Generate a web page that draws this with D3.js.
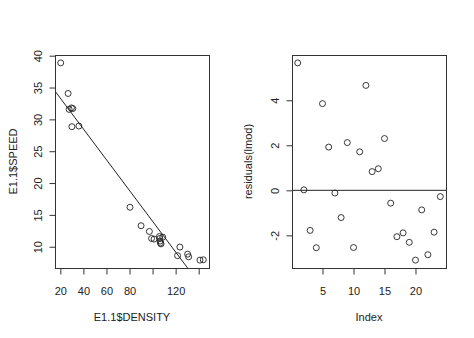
<!DOCTYPE html>
<html><head><meta charset="utf-8">
<script src="https://cdn.jsdelivr.net/npm/d3@7"></script>
<style>body{margin:0;background:#fff}text{font-family:"Liberation Sans",Arial,sans-serif;fill:#222}</style>
</head><body>
<svg id="c" width="474" height="338"></svg>
<script>
// Left panel: E1.1$DENSITY vs E1.1$SPEED
const density = [20.3, 26.7, 27.6, 29.6, 30.8, 30.0, 36.1, 80.4, 90.0, 97.2, 99.1, 101.3, 105.9, 106.3, 106.5, 106.8, 107.3, 108.8, 121.7, 123.7, 130.4, 131.3, 141.1, 144.0];
const speed   = [38.87, 34.07, 31.57, 31.8, 31.7, 28.85, 28.95, 16.2, 13.3, 12.4, 11.3, 11.2, 11.6, 11.3, 10.9, 10.6, 10.45, 11.5, 8.6, 9.95, 8.84, 8.42, 7.9, 7.95];
const fitCoef = [38.15, -0.2415]; // intercept, slope of lmod
const leftXTicks = [20, 40, 60, 80, 100, 120, 140];
const leftXLabels = ["20", "40", "60", "80", "", "120", ""];
const leftYTicks = [10, 15, 20, 25, 30, 35, 40];
// Right panel: residuals(lmod) vs Index
const residuals = [5.66, 0.02, -1.78, -2.55, 3.85, 1.92, -0.12, -1.21, 2.12, -2.54, 1.71, 4.66, 0.83, 0.96, 2.30, -0.57, -2.06, -1.89, -2.31, -3.10, -0.87, -2.86, -1.86, -0.28];
const rightXTicks = [5, 10, 15, 20];
const rightYTicks = [-2, 0, 2, 4];

const svg = d3.select("#c");
const pTop = 55, pBottom = 268;
function pad(ext){const s=ext[1]-ext[0];return [ext[0]-0.04*s, ext[1]+0.04*s];}

function panel(L, R, xs, ys, xT, xL, yT, xTitle, yTitle, ytitleX, ylabX, extra){
  const x = d3.scaleLinear().domain(pad(d3.extent(xs))).range([L, R]);
  const y = d3.scaleLinear().domain(pad(d3.extent(ys))).range([pBottom, pTop]);
  const g = svg.append("g");
  const clipId = "clip"+L;
  g.append("clipPath").attr("id", clipId).append("rect").attr("x",L).attr("y",pTop).attr("width",R-L).attr("height",pBottom-pTop);
  if (extra) extra(g.append("g").attr("clip-path",`url(#${clipId})`), x, y);
  g.selectAll("circle.pt").data(xs).join("circle").attr("class","pt")
    .attr("cx",(d,i)=>x(d)).attr("cy",(d,i)=>y(ys[i])).attr("r",3)
    .attr("fill","none").attr("stroke","#222").attr("stroke-width",0.9);
  g.append("rect").attr("x",L+0.5).attr("y",pTop+0.5).attr("width",R-L).attr("height",pBottom-pTop)
    .attr("fill","none").attr("stroke","#333").attr("stroke-width",1);
  // x axis
  const xa = g.append("g").attr("transform",`translate(0,${pBottom+0.5})`)
    .call(d3.axisBottom(x).tickValues(xT).tickSize(6).tickFormat((d,i)=>xL[i]));
  xa.select(".domain").remove();
  xa.selectAll("line").attr("stroke","#333");
  xa.selectAll("text").attr("font-size",11).attr("fill","#222").attr("dy",null).attr("y",26).attr("font-family","Liberation Sans, Arial, sans-serif");
  // y axis
  const ya = g.append("g").attr("transform",`translate(${L+0.5},0)`)
    .call(d3.axisLeft(y).tickValues(yT).tickSize(6).tickFormat(d=>d));
  ya.select(".domain").remove();
  ya.selectAll("line").attr("stroke","#333");
  ya.selectAll("text").attr("font-size",11).attr("fill","#222").attr("x",null).attr("dy",null)
    .attr("text-anchor","middle").attr("transform",`translate(${ylabX-L},0) rotate(-90)`).attr("y",0)
    .attr("font-family","Liberation Sans, Arial, sans-serif");
  ya.selectAll(".tick").each(function(d){
    const t = d3.select(this).select("text");
    t.attr("transform",`translate(${ylabX-L},0) rotate(-90)`);
  });
  g.append("text").attr("x",(L+R)/2).attr("y",321).attr("text-anchor","middle").attr("font-size",11).text(xTitle);
  g.append("text").attr("transform",`translate(${ytitleX},${(pTop+pBottom)/2}) rotate(-90)`).attr("text-anchor","middle").attr("font-size",11).text(yTitle);
}

panel(55, 209, density, speed, leftXTicks, leftXLabels, leftYTicks, "E1.1$DENSITY", "E1.1$SPEED", 16.5, 41,
  (g, x, y) => {
    const d0 = x.domain()[0]-10, d1 = x.domain()[1]+10;
    g.append("line").attr("x1",x(d0)).attr("y1",y(fitCoef[0]+fitCoef[1]*d0))
      .attr("x2",x(d1)).attr("y2",y(fitCoef[0]+fitCoef[1]*d1)).attr("stroke","#222").attr("stroke-width",1);
  });
const index = residuals.map((d,i)=>i+1);
panel(292, 446, index, residuals, rightXTicks, rightXTicks.map(String), rightYTicks, "Index", "residuals(lmod)", 252, 278,
  (g, x, y) => {
    g.append("line").attr("x1",x.range()[0]).attr("x2",x.range()[1]).attr("y1",y(0)).attr("y2",y(0))
      .attr("stroke","#222").attr("stroke-width",1);
  });
</script>
</body></html>
